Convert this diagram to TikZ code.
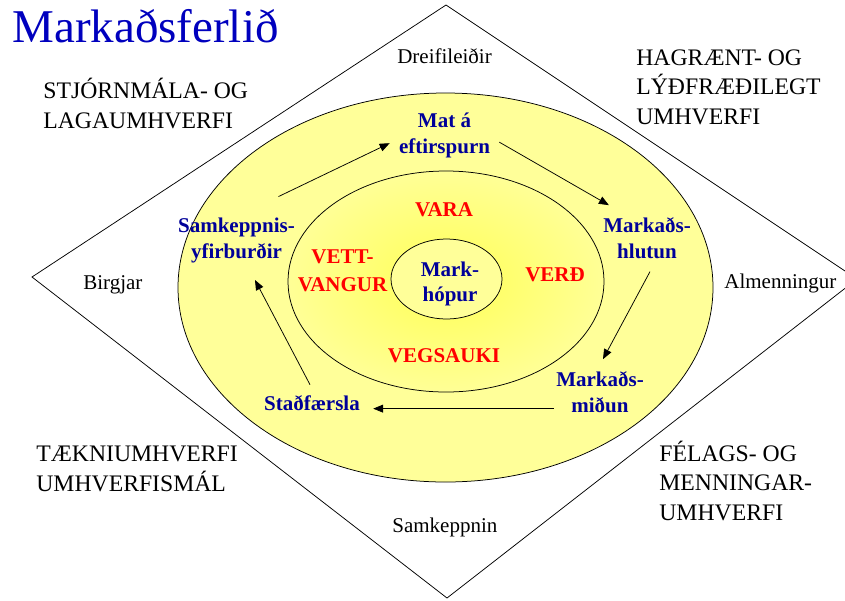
\documentclass[tikz,border=0pt]{standalone}
\usepackage{fontspec}
\setmainfont{Liberation Serif}
\usetikzlibrary{arrows.meta}
\definecolor{titleblue}{RGB}{0,0,190}
\definecolor{stepblue}{RGB}{0,0,153}
\definecolor{paleyellow}{RGB}{255,255,153}
\definecolor{coreyellow}{RGB}{255,255,85}
\definecolor{rimyellow}{RGB}{255,255,150}
\tikzset{
  envlabel/.style={align=left, inner sep=0pt, font=\fontsize{23.7}{29.3}\selectfont},
  sidelabel/.style={inner sep=0pt, font=\fontsize{21}{26}\selectfont},
  steplabel/.style={align=center, inner sep=0pt, text=stepblue, font=\fontsize{21}{25.5}\selectfont\bfseries},
  mixlabel/.style={align=center, inner sep=0pt, text=red, font=\fontsize{21}{28}\selectfont\bfseries},
}

\begin{document}
\begin{tikzpicture}[x=1pt, y=-1pt, line width=0.75pt, >={Triangle[length=10pt,width=8pt]}]
  \useasboundingbox (0,0) rectangle (845,600);

  \filldraw[fill=paleyellow] (445.5,287.5) ellipse [x radius=267.5pt, y radius=194.5pt];
  \shade[inner color=coreyellow, outer color=rimyellow] (446,281.5) ellipse [x radius=158pt, y radius=110.5pt];
  \draw (446,281.5) ellipse [x radius=158pt, y radius=110.5pt];
  \filldraw[fill=paleyellow] (446.5,279) ellipse [x radius=55.5pt, y radius=40pt];
  \draw (446,5) -- (857,279) -- (447,598) -- (32,277) -- cycle;

  \node[anchor=base west, inner sep=0pt, text=titleblue, font=\fontsize{47}{50}\selectfont] (title) at (12,42) {Markaðsferlið};

  \node[sidelabel, anchor=base] (dreif) at (444.5,63) {Dreifileiðir};
  \node[sidelabel, anchor=base west] (birgjar) at (83,289) {Birgjar};
  \node[sidelabel, anchor=base west] (almenn) at (724,288) {Almenningur};
  \node[sidelabel, anchor=base west] (samkeppnin) at (392,532) {Samkeppnin};

  \node[envlabel, anchor=base west] (stjorn) at (43,128) {STJÓRNMÁLA- OG\\LAGAUMHVERFI};
  \node[envlabel, anchor=base west] (hagr) at (636,124) {HAGRÆNT- OG\\LÝÐFRÆÐILEGT\\UMHVERFI};
  \node[envlabel, anchor=base west] (taekni) at (36,491) {TÆKNIUMHVERFI\\UMHVERFISMÁL};
  \node[envlabel, anchor=base west] (felags) at (659,520) {FÉLAGS- OG\\MENNINGAR-\\UMHVERFI};

  \node[steplabel, anchor=base] (mat) at (444.5,153) {Mat á\\eftirspurn};
  \node[steplabel, anchor=base] (hlutun) at (647,258) {Markaðs-\\hlutun};
  \node[steplabel, anchor=base] (midun) at (600,412) {Markaðs-\\miðun};
  \node[steplabel, anchor=base] (stadf) at (312,410) {Staðfærsla};
  \node[steplabel, anchor=base] (yfirb) at (236.5,258) {Samkeppnis-\\yfirburðir};

  \node[mixlabel, anchor=base] (vara) at (444,216) {VARA};
  \node[mixlabel, anchor=base] (vett) at (342.5,291) {VETT-\\VANGUR};
  \node[mixlabel, anchor=base] (verd) at (555,281) {VERÐ};
  \node[mixlabel, anchor=base] (vegs) at (444,362) {VEGSAUKI};
  \node[steplabel, anchor=base, font=\fontsize{21}{24.5}\selectfont\bfseries] (mhop) at (450,301) {Mark-\\hópur};

  \draw[->] ([xshift=42pt,yshift=21pt]yfirb.north) -- ([xshift=-9pt,yshift=-8pt]mat.west);
  \draw[->] ([xshift=9pt,yshift=-7pt]mat.east) -- ([xshift=6pt,yshift=12pt]hlutun.north west);
  \draw[->] ([xshift=3pt,yshift=-13pt]hlutun.south) -- ([xshift=3pt,yshift=12pt]midun.north);
  \draw[->] ([xshift=-2pt,yshift=4pt]midun.south west) coordinate (midtail) -- ([xshift=13pt]stadf.east |- midtail);
  \draw[->] ([xshift=-2pt,yshift=10pt]stadf.north) -- ([xshift=18.5pt,yshift=-22pt]yfirb.base);
\end{tikzpicture}
\end{document}
